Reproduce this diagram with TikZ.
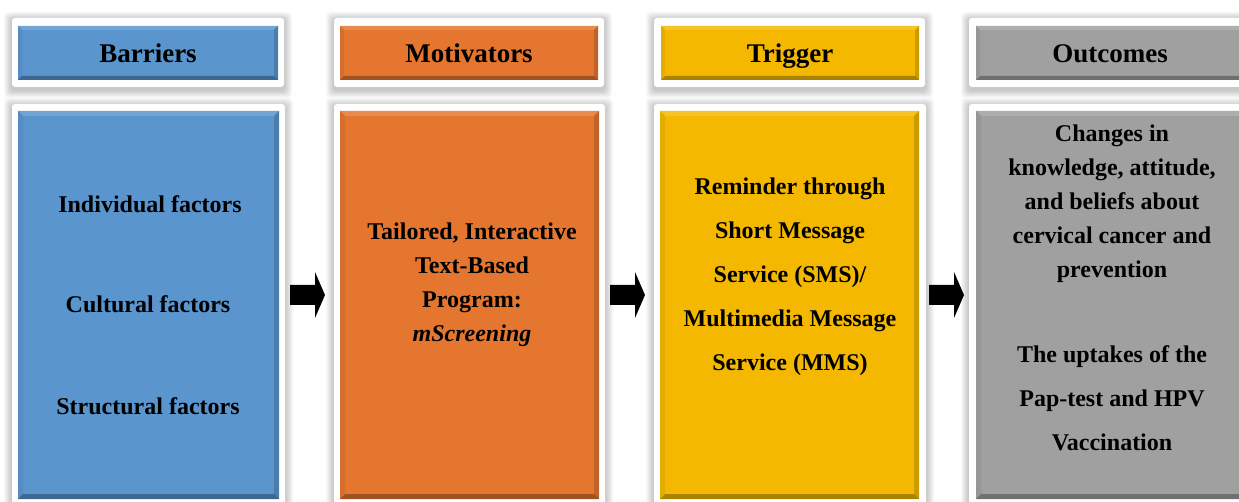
\documentclass[tikz,border=0pt]{standalone}
\usepackage{fontspec}
\setmainfont{Liberation Serif}
\usetikzlibrary{calc}
\definecolor{cblue}{HTML}{5A95CD}
\definecolor{corange}{HTML}{E5762F}
\definecolor{cyellow}{HTML}{F4B800}
\definecolor{cgray}{HTML}{A0A0A0}
\newcommand\glowframe[4]{%
  \foreach \i in {1,...,8}{\fill[black,opacity=0.028,rounded corners=4pt] (#1-\i,#2-\i+2) rectangle (#3+\i,#4+\i+3);}
  \fill[white,rounded corners=3pt] (#1,#2) rectangle (#3,#4);}
\newcommand\bevelit[3]{%
  \fill[#2!85!white] (#1.north west) -- (#1.north east) -- ([shift={(-#3,#3)}]#1.north east) -- ([shift={(#3,#3)}]#1.north west) -- cycle;
  \fill[#2!94!black] (#1.north west) -- (#1.south west) -- ([shift={(#3,-#3)}]#1.south west) -- ([shift={(#3,#3)}]#1.north west) -- cycle;
  \fill[#2!84!black] (#1.north east) -- (#1.south east) -- ([shift={(-#3,-#3)}]#1.south east) -- ([shift={(-#3,#3)}]#1.north east) -- cycle;
  \fill[#2!70!black] (#1.south west) -- (#1.south east) -- ([shift={(-#3,-#3)}]#1.south east) -- ([shift={(#3,-#3)}]#1.south west) -- cycle;}
\newcommand\blockarrow[1]{%
  \fill[black] ([shift={(-17.5,-10)}]#1) -- ([shift={(7.5,-10)}]#1) -- ([shift={(7.5,-23)}]#1) -- ([shift={(17.5,0)}]#1) -- ([shift={(7.5,23)}]#1) -- ([shift={(7.5,10)}]#1) -- ([shift={(-17.5,10)}]#1) -- cycle;}
\begin{document}
\begin{tikzpicture}[x=1pt,y=-1pt,
  fillbox/.style={inner sep=0pt,outer sep=0pt,anchor=north west},
  headtxt/.style={font=\bfseries\fontsize{27pt}{32pt}\selectfont,anchor=base,text=black},
  bodytxt/.style={font=\bfseries\fontsize{24pt}{34pt}\selectfont,align=center,text=black},
  widetxt/.style={font=\bfseries\fontsize{24pt}{44pt}\selectfont,align=center,text=black}]
\useasboundingbox (0,0) rectangle (1239,502);
\fill[white] (0,0) rectangle (1239,502);
\clip (0,0) rectangle (1239,502);
% frames
\glowframe{12}{18}{284}{87}
\glowframe{12}{104}{285}{530}
\glowframe{334}{18}{604}{87}
\glowframe{334}{104}{605}{530}
\glowframe{654}{18}{925}{87}
\glowframe{654}{104}{926}{530}
\glowframe{969}{18}{1250}{87}
\glowframe{969}{104}{1250}{530}
% header boxes
\node[fillbox,fill=cblue,minimum width=260pt,minimum height=54pt] (h1) at (18,26) {};
\node[fillbox,fill=corange,minimum width=258pt,minimum height=54pt] (h2) at (340,26) {};
\node[fillbox,fill=cyellow,minimum width=258pt,minimum height=54pt] (h3) at (661,26) {};
\node[fillbox,fill=cgray,minimum width=268pt,minimum height=54pt] (h4) at (976,26) {};
\bevelit{h1}{cblue}{4}
\bevelit{h2}{corange}{4}
\bevelit{h3}{cyellow}{4}
\bevelit{h4}{cgray}{4}
% body boxes
\node[fillbox,fill=cblue,minimum width=261pt,minimum height=388pt] (b1) at (18,111) {};
\node[fillbox,fill=corange,minimum width=259pt,minimum height=388pt] (b2) at (340,111) {};
\node[fillbox,fill=cyellow,minimum width=259pt,minimum height=388pt] (b3) at (660,111) {};
\node[fillbox,fill=cgray,minimum width=268pt,minimum height=388pt] (b4) at (976,111) {};
\bevelit{b1}{cblue}{5}
\bevelit{b2}{corange}{5}
\bevelit{b3}{cyellow}{5}
\bevelit{b4}{cgray}{5}
% header texts
\node[headtxt] (t1) at (148,63) {Barriers};
\node[headtxt] (t2) at (469,63) {Motivators};
\node[headtxt] (t3) at (790,63) {Trigger};
\node[headtxt] (t4) at (1110,63) {Outcomes};
% body texts
\node[bodytxt] (x1) at (150,204) {Individual factors};
\node[bodytxt] (x2) at (148,304) {Cultural factors};
\node[bodytxt] (x3) at (148,406) {Structural factors};
\node[bodytxt] (m1) at (472,285) {Tailored, Interactive\\Text-Based\\Program:\\\textit{mScreening}};
\node[widetxt] (r1) at (790,277) {Reminder through\\Short Message\\Service (SMS)/\\Multimedia Message\\Service (MMS)};
\node[bodytxt] (o1) at (1112,204) {Changes in\\knowledge, attitude,\\and beliefs about\\cervical cancer and\\prevention};
\node[widetxt] (o2) at (1112,398) {The uptakes of the\\Pap-test and HPV\\Vaccination};
% block arrows
\coordinate (a1) at ($(b1.east)!0.5!(b2.west)+(-2,-10)$);
\coordinate (a2) at ($(b2.east)!0.5!(b3.west)+(-2,-10)$);
\coordinate (a3) at ($(b3.east)!0.5!(b4.west)+(-1,-10)$);
\blockarrow{a1}
\blockarrow{a2}
\blockarrow{a3}
\end{tikzpicture}
\end{document}
